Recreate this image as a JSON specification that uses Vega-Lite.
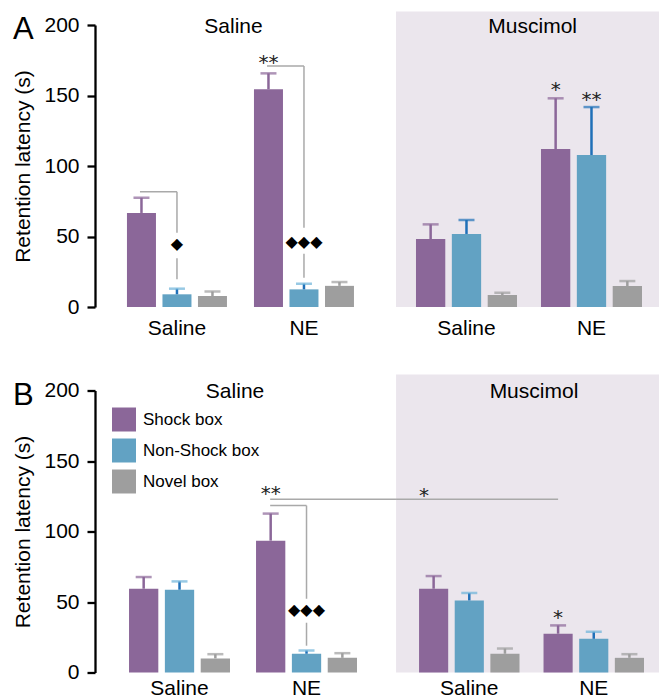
{
  "$schema": "https://vega.github.io/schema/vega-lite/v6.json",
  "padding": {"left": 12, "top": 11, "right": 0, "bottom": 0},
  "background": "white",
  "config": {
    "view": {"stroke": null},
    "font": "Liberation Sans",
    "text": {"font": "Liberation Sans"},
    "axis": {"labelFont": "Liberation Sans", "titleFont": "Liberation Sans", "labelColor": "black", "titleColor": "black"},
    "title": {"font": "Liberation Sans"}
  },
  "datasets": {
    "bars": [
      {"panel": "A", "cond": "Saline", "drug": "Saline", "box": "Shock box", "mean": 66.7, "upper": 77.5},
      {"panel": "A", "cond": "Saline", "drug": "Saline", "box": "Non-Shock box", "mean": 9, "upper": 13},
      {"panel": "A", "cond": "Saline", "drug": "Saline", "box": "Novel box", "mean": 7.8, "upper": 11},
      {"panel": "A", "cond": "Saline", "drug": "NE", "box": "Shock box", "mean": 154.4, "upper": 165.7},
      {"panel": "A", "cond": "Saline", "drug": "NE", "box": "Non-Shock box", "mean": 12.5, "upper": 16.5},
      {"panel": "A", "cond": "Saline", "drug": "NE", "box": "Novel box", "mean": 15, "upper": 17.7},
      {"panel": "A", "cond": "Muscimol", "drug": "Saline", "box": "Shock box", "mean": 48.2, "upper": 58.6},
      {"panel": "A", "cond": "Muscimol", "drug": "Saline", "box": "Non-Shock box", "mean": 51.8, "upper": 61.7},
      {"panel": "A", "cond": "Muscimol", "drug": "Saline", "box": "Novel box", "mean": 8.5, "upper": 10.1},
      {"panel": "A", "cond": "Muscimol", "drug": "NE", "box": "Shock box", "mean": 112, "upper": 148},
      {"panel": "A", "cond": "Muscimol", "drug": "NE", "box": "Non-Shock box", "mean": 107.8, "upper": 141.8},
      {"panel": "A", "cond": "Muscimol", "drug": "NE", "box": "Novel box", "mean": 14.9, "upper": 18.4},
      {"panel": "B", "cond": "Saline", "drug": "Saline", "box": "Shock box", "mean": 59.4, "upper": 67.7},
      {"panel": "B", "cond": "Saline", "drug": "Saline", "box": "Non-Shock box", "mean": 58.7, "upper": 64.6},
      {"panel": "B", "cond": "Saline", "drug": "Saline", "box": "Novel box", "mean": 10, "upper": 13},
      {"panel": "B", "cond": "Saline", "drug": "NE", "box": "Shock box", "mean": 93.5, "upper": 112.7},
      {"panel": "B", "cond": "Saline", "drug": "NE", "box": "Non-Shock box", "mean": 13.3, "upper": 15.6},
      {"panel": "B", "cond": "Saline", "drug": "NE", "box": "Novel box", "mean": 10.4, "upper": 13.7},
      {"panel": "B", "cond": "Muscimol", "drug": "Saline", "box": "Shock box", "mean": 59.4, "upper": 68.4},
      {"panel": "B", "cond": "Muscimol", "drug": "Saline", "box": "Non-Shock box", "mean": 51.1, "upper": 56.4},
      {"panel": "B", "cond": "Muscimol", "drug": "Saline", "box": "Novel box", "mean": 13.3, "upper": 17},
      {"panel": "B", "cond": "Muscimol", "drug": "NE", "box": "Shock box", "mean": 27.5, "upper": 33.4},
      {"panel": "B", "cond": "Muscimol", "drug": "NE", "box": "Non-Shock box", "mean": 23.9, "upper": 28.9},
      {"panel": "B", "cond": "Muscimol", "drug": "NE", "box": "Novel box", "mean": 10.4, "upper": 13}
    ],
    "marks": [
      {"panel": "A", "cond": "Saline", "drug": "Saline", "box": "Non-Shock box", "y": 44.5, "label": "◆", "kind": "dia"},
      {"panel": "A", "cond": "Saline", "drug": "NE", "box": "Shock box", "y": 177, "label": "**", "kind": "star"},
      {"panel": "A", "cond": "Saline", "drug": "NE", "box": "Non-Shock box", "y": 46.3, "label": "◆◆◆", "kind": "dia"},
      {"panel": "A", "cond": "Muscimol", "drug": "NE", "box": "Shock box", "y": 158, "label": "*", "kind": "star"},
      {"panel": "A", "cond": "Muscimol", "drug": "NE", "box": "Non-Shock box", "y": 151, "label": "**", "kind": "star"},
      {"panel": "B", "cond": "Saline", "drug": "NE", "box": "Shock box", "y": 130.5, "label": "**", "kind": "star"},
      {"panel": "B", "cond": "Saline", "drug": "NE", "box": "Non-Shock box", "y": 44, "label": "◆◆◆", "kind": "dia"},
      {"panel": "B", "cond": "Muscimol", "drug": "NE", "box": "Shock box", "y": 42.6, "label": "*", "kind": "star"},
      {"panel": "B", "cond": "Muscimol", "drug": "Saline", "box": "Shock box", "y": 129.5, "label": "*", "kind": "starx"}
    ],
    "heads": [
      {"panel": "A", "cond": "Saline", "drug": "Saline", "y": 194, "label": "Saline"},
      {"panel": "A", "cond": "Muscimol", "drug": "Saline", "y": 194, "label": "Muscimol"},
      {"panel": "B", "cond": "Saline", "drug": "Saline", "y": 194.4, "label": "Saline"},
      {"panel": "B", "cond": "Muscimol", "drug": "Saline", "y": 194.4, "label": "Muscimol"}
    ],
    "shade": [
      {"panel": "A", "cond": "Muscimol", "from": "Saline", "to": "NE", "y0": 0, "y1": 209.6},
      {"panel": "B", "cond": "Muscimol", "from": "Saline", "to": "NE", "y0": 0, "y1": 211.4}
    ],
    "hr": [
      {"panel": "A", "cond": "Saline", "drug": "Saline", "y": 81.8},
      {"panel": "A", "cond": "Saline", "drug": "NE", "y": 170.9},
      {"panel": "B", "cond": "Saline", "drug": "NE", "y": 118.4}
    ],
    "vr": [
      {"panel": "A", "cond": "Saline", "drug": "Saline", "y": 81.8, "y2": 52.7},
      {"panel": "A", "cond": "Saline", "drug": "Saline", "y": 34.5, "y2": 19.6},
      {"panel": "A", "cond": "Saline", "drug": "NE", "y": 170.9, "y2": 56.2},
      {"panel": "A", "cond": "Saline", "drug": "NE", "y": 37.8, "y2": 20.8},
      {"panel": "B", "cond": "Saline", "drug": "NE", "y": 118.4, "y2": 52.3},
      {"panel": "B", "cond": "Saline", "drug": "NE", "y": 35.3, "y2": 19}
    ],
    "long": [
      {"panel": "B", "cond": "Saline", "drug": "NE", "y": 122.9},
      {"panel": "B", "cond": "Muscimol", "drug": "NE", "from": "Saline", "y": 122.9}
    ]
  },
  "columns": 2,
  "bounds": "flush",
  "spacing": {"row": 83.5, "column": 0},
  "resolve": {
    "scale": {"color": "independent", "x": "independent", "y": "independent", "xOffset": "independent"},
    "legend": {"color": "independent"}
  },
  "concat": [
    {
      "width": 301, "height": 282,
      "title": {"text": "A", "anchor": "start", "frame": "bounds", "orient": "top", "fontSize": 31, "fontWeight": "normal", "color": "black", "baseline": "alphabetic", "offset": 0, "dy": 56},
      "resolve": {"scale": {"color": "independent"}},
      "encoding": {
        "x": {"field": "drug", "type": "nominal", "sort": ["Saline", "NE"], "scale": {"domain": ["Saline", "NE"], "paddingInner": 0.2126, "paddingOuter": 0.2913, "align": 0.432},
              "axis": {"title": null, "domain": false, "ticks": false, "tickSize": 0, "labelFontSize": 21, "labelPadding": 10, "labelAngle": 0}},
        "y": {"field": "mean", "type": "quantitative", "scale": {"domain": [0, 200], "nice": false},
              "axis": {"title": "Retention latency (s)", "values": [0, 50, 100, 150, 200], "grid": false, "domainColor": "black", "domainWidth": 2.3, "tickColor": "black", "tickWidth": 2.3, "tickSize": 8, "labelFontSize": 21, "labelPadding": 8, "titleFontSize": 21, "titleFontWeight": "normal", "titlePadding": 10}}
      },
      "layer": [
        {
          "data": {"name": "bars"},
          "transform": [{"filter": "datum.panel == 'A' && datum.cond == 'Saline'"}],
          "resolve": {"scale": {"color": "independent"}},
          "layer": [
            {"mark": {"type": "bar"},
             "encoding": {"xOffset": {"field": "box", "type": "nominal", "scale": {"domain": ["Shock box", "Non-Shock box", "Novel box"], "paddingInner": 0.183, "paddingOuter": 0}},
                          "color": {"field": "box", "type": "nominal", "scale": {"domain": ["Shock box", "Non-Shock box", "Novel box"], "range": ["#8b6799", "#62a2c3", "#9e9e9e"]}, "legend": null}}},
            {"mark": {"type": "rule", "strokeWidth": 2.5},
             "encoding": {"xOffset": {"field": "box", "type": "nominal"}, "y2": {"field": "upper"},
                          "color": {"field": "box", "type": "nominal", "scale": {"domain": ["Shock box", "Non-Shock box", "Novel box"], "range": ["#8b6799", "#2070b8", "#9e9e9e"]}, "legend": null}}},
            {"mark": {"type": "tick", "thickness": 2.5, "size": 16},
             "encoding": {"xOffset": {"field": "box", "type": "nominal"}, "y": {"field": "upper", "type": "quantitative"},
                          "color": {"field": "box", "type": "nominal", "scale": {"domain": ["Shock box", "Non-Shock box", "Novel box"], "range": ["#8b6799", "#6cb2d8", "#9e9e9e"]}, "legend": null}}}
          ]
        },
        {
          "data": {"name": "hr"},
          "transform": [{"filter": "datum.panel == 'A' && datum.cond == 'Saline'"}],
          "mark": {"type": "rule", "color": "#a9a9a9", "strokeWidth": 1.5},
          "encoding": {"x": {"field": "drug", "type": "nominal", "bandPosition": 0.13}, "x2": {"field": "drug", "bandPosition": 0.5}, "y": {"field": "y", "type": "quantitative"}}
        },
        {
          "data": {"name": "vr"},
          "transform": [{"filter": "datum.panel == 'A' && datum.cond == 'Saline'"}],
          "mark": {"type": "rule", "color": "#a9a9a9", "strokeWidth": 1.5},
          "encoding": {"x": {"field": "drug", "type": "nominal", "bandPosition": 0.5}, "y": {"field": "y", "type": "quantitative"}, "y2": {"field": "y2"}}
        },
        {
          "data": {"name": "marks"},
          "transform": [{"filter": "datum.panel == 'A' && datum.cond == 'Saline' && datum.kind == 'star'"}],
          "mark": {"type": "text", "font": "DejaVu Sans", "fontSize": 20, "baseline": "alphabetic", "dy": 12, "color": "#222222"},
          "encoding": {"xOffset": {"field": "box", "type": "nominal"}, "y": {"field": "y", "type": "quantitative"}, "text": {"field": "label"}}
        },
        {
          "data": {"name": "marks"},
          "transform": [{"filter": "datum.panel == 'A' && datum.cond == 'Saline' && datum.kind == 'dia'"}],
          "mark": {"type": "text", "font": "DejaVu Sans", "fontSize": 16, "baseline": "middle", "color": "black"},
          "encoding": {"xOffset": {"field": "box", "type": "nominal"}, "y": {"field": "y", "type": "quantitative"}, "text": {"field": "label"}}
        },
        {
          "data": {"name": "heads"},
          "transform": [{"filter": "datum.panel == 'A' && datum.cond == 'Saline'"}],
          "mark": {"type": "text", "fontSize": 21, "baseline": "alphabetic", "align": "center", "color": "black"},
          "encoding": {"x": {"field": "drug", "type": "nominal", "bandPosition": 1.065}, "y": {"field": "y", "type": "quantitative"}, "text": {"field": "label"}}
        }
      ]
    },
    {
      "width": 264, "height": 282,
      "resolve": {"scale": {"color": "independent"}},
      "encoding": {
        "x": {"field": "drug", "type": "nominal", "sort": ["Saline", "NE"], "scale": {"domain": ["Saline", "NE"], "paddingInner": 0.192, "paddingOuter": 0.152, "align": 0.526},
              "axis": {"title": null, "domain": false, "ticks": false, "tickSize": 0, "labelFontSize": 21, "labelPadding": 10, "labelAngle": 0}},
        "y": {"field": "mean", "type": "quantitative", "scale": {"domain": [0, 200], "nice": false}, "axis": null}
      },
      "layer": [
        {
          "data": {"name": "shade"},
          "transform": [{"filter": "datum.panel == 'A'"}],
          "mark": {"type": "rect", "color": "#ebe6ed", "clip": false},
          "encoding": {"x": {"field": "from", "type": "nominal", "bandPosition": -0.198}, "x2": {"field": "to", "bandPosition": 1.178}, "y": {"field": "y0", "type": "quantitative", "axis": null}, "y2": {"field": "y1"}}
        },
        {
          "data": {"name": "bars"},
          "transform": [{"filter": "datum.panel == 'A' && datum.cond == 'Muscimol'"}],
          "resolve": {"scale": {"color": "independent"}},
          "layer": [
            {"mark": {"type": "bar"},
             "encoding": {"xOffset": {"field": "box", "type": "nominal", "scale": {"domain": ["Shock box", "Non-Shock box", "Novel box"], "paddingInner": 0.183, "paddingOuter": 0}},
                          "color": {"field": "box", "type": "nominal", "scale": {"domain": ["Shock box", "Non-Shock box", "Novel box"], "range": ["#8b6799", "#62a2c3", "#9e9e9e"]}, "legend": null}}},
            {"mark": {"type": "rule", "strokeWidth": 2.5},
             "encoding": {"xOffset": {"field": "box", "type": "nominal"}, "y2": {"field": "upper"},
                          "color": {"field": "box", "type": "nominal", "scale": {"domain": ["Shock box", "Non-Shock box", "Novel box"], "range": ["#8b6799", "#2070b8", "#9e9e9e"]}, "legend": null}}},
            {"mark": {"type": "tick", "thickness": 2.5, "size": 16},
             "encoding": {"xOffset": {"field": "box", "type": "nominal"}, "y": {"field": "upper", "type": "quantitative", "axis": null},
                          "color": {"field": "box", "type": "nominal", "scale": {"domain": ["Shock box", "Non-Shock box", "Novel box"], "range": ["#8b6799", "#2070b8", "#9e9e9e"]}, "legend": null}}}
          ]
        },
        {
          "data": {"name": "marks"},
          "transform": [{"filter": "datum.panel == 'A' && datum.cond == 'Muscimol' && datum.kind == 'star'"}],
          "mark": {"type": "text", "font": "DejaVu Sans", "fontSize": 20, "baseline": "alphabetic", "dy": 12, "color": "#222222"},
          "encoding": {"xOffset": {"field": "box", "type": "nominal"}, "y": {"field": "y", "type": "quantitative", "axis": null}, "text": {"field": "label"}}
        },
        {
          "data": {"name": "heads"},
          "transform": [{"filter": "datum.panel == 'A' && datum.cond == 'Muscimol'"}],
          "mark": {"type": "text", "fontSize": 21, "baseline": "alphabetic", "align": "center", "color": "black"},
          "encoding": {"x": {"field": "drug", "type": "nominal", "bandPosition": 1.155}, "y": {"field": "y", "type": "quantitative", "axis": null}, "text": {"field": "label"}}
        }
      ]
    },
    {
      "width": 301, "height": 282,
      "title": {"text": "B", "anchor": "start", "frame": "bounds", "orient": "top", "fontSize": 31, "fontWeight": "normal", "color": "black", "baseline": "alphabetic", "offset": 0, "dy": 56},
      "resolve": {"scale": {"color": "independent"}},
      "encoding": {
        "x": {"field": "drug", "type": "nominal", "sort": ["Saline", "NE"], "scale": {"domain": ["Saline", "NE"], "paddingInner": 0.205, "paddingOuter": 0.2875, "align": 0.466},
              "axis": {"title": null, "domain": false, "ticks": false, "tickSize": 0, "labelFontSize": 21, "labelPadding": 5, "labelAngle": 0}},
        "y": {"field": "mean", "type": "quantitative", "scale": {"domain": [0, 200], "nice": false},
              "axis": {"title": "Retention latency (s)", "values": [0, 50, 100, 150, 200], "grid": false, "domainColor": "black", "domainWidth": 2.3, "tickColor": "black", "tickWidth": 2.3, "tickSize": 8, "labelFontSize": 21, "labelPadding": 8, "titleFontSize": 21, "titleFontWeight": "normal", "titlePadding": 10}}
      },
      "layer": [
        {
          "data": {"name": "bars"},
          "transform": [{"filter": "datum.panel == 'B' && datum.cond == 'Saline'"}],
          "resolve": {"scale": {"color": "independent"}},
          "layer": [
            {"mark": {"type": "bar"},
             "encoding": {"xOffset": {"field": "box", "type": "nominal", "scale": {"domain": ["Shock box", "Non-Shock box", "Novel box"], "paddingInner": 0.183, "paddingOuter": 0}},
                          "color": {"field": "box", "type": "nominal", "scale": {"domain": ["Shock box", "Non-Shock box", "Novel box"], "range": ["#8b6799", "#62a2c3", "#9e9e9e"]},
                                    "legend": {"orient": "top-left", "offset": 17, "title": null, "symbolType": "square", "symbolSize": 576, "symbolStrokeWidth": 0, "labelFontSize": 17, "labelFont": "Liberation Sans", "labelColor": "black", "rowPadding": 7, "labelOffset": 7, "padding": 0}}}},
            {"mark": {"type": "rule", "strokeWidth": 2.5},
             "encoding": {"xOffset": {"field": "box", "type": "nominal"}, "y2": {"field": "upper"},
                          "color": {"field": "box", "type": "nominal", "scale": {"domain": ["Shock box", "Non-Shock box", "Novel box"], "range": ["#8b6799", "#2070b8", "#9e9e9e"]}, "legend": null}}},
            {"mark": {"type": "tick", "thickness": 2.5, "size": 16},
             "encoding": {"xOffset": {"field": "box", "type": "nominal"}, "y": {"field": "upper", "type": "quantitative"},
                          "color": {"field": "box", "type": "nominal", "scale": {"domain": ["Shock box", "Non-Shock box", "Novel box"], "range": ["#8b6799", "#6cb2d8", "#9e9e9e"]}, "legend": null}}}
          ]
        },
        {
          "data": {"name": "hr"},
          "transform": [{"filter": "datum.panel == 'B' && datum.cond == 'Saline'"}],
          "mark": {"type": "rule", "color": "#a9a9a9", "strokeWidth": 1.5},
          "encoding": {"x": {"field": "drug", "type": "nominal", "bandPosition": 0.14}, "x2": {"field": "drug", "bandPosition": 0.5}, "y": {"field": "y", "type": "quantitative"}}
        },
        {
          "data": {"name": "long"},
          "transform": [{"filter": "datum.panel == 'B' && datum.cond == 'Saline'"}],
          "mark": {"type": "rule", "color": "#a9a9a9", "strokeWidth": 1.5},
          "encoding": {"x": {"field": "drug", "type": "nominal", "bandPosition": 0.14}, "x2": {"field": "drug", "bandPosition": 1.386}, "y": {"field": "y", "type": "quantitative"}}
        },
        {
          "data": {"name": "vr"},
          "transform": [{"filter": "datum.panel == 'B' && datum.cond == 'Saline'"}],
          "mark": {"type": "rule", "color": "#a9a9a9", "strokeWidth": 1.5},
          "encoding": {"x": {"field": "drug", "type": "nominal", "bandPosition": 0.5}, "y": {"field": "y", "type": "quantitative"}, "y2": {"field": "y2"}}
        },
        {
          "data": {"name": "marks"},
          "transform": [{"filter": "datum.panel == 'B' && datum.cond == 'Saline' && datum.kind == 'star'"}],
          "mark": {"type": "text", "font": "DejaVu Sans", "fontSize": 20, "baseline": "alphabetic", "dy": 12, "color": "#222222"},
          "encoding": {"xOffset": {"field": "box", "type": "nominal"}, "y": {"field": "y", "type": "quantitative"}, "text": {"field": "label"}}
        },
        {
          "data": {"name": "marks"},
          "transform": [{"filter": "datum.panel == 'B' && datum.cond == 'Saline' && datum.kind == 'dia'"}],
          "mark": {"type": "text", "font": "DejaVu Sans", "fontSize": 16, "baseline": "middle", "color": "black"},
          "encoding": {"xOffset": {"field": "box", "type": "nominal"}, "y": {"field": "y", "type": "quantitative"}, "text": {"field": "label"}}
        },
        {
          "data": {"name": "heads"},
          "transform": [{"filter": "datum.panel == 'B' && datum.cond == 'Saline'"}],
          "mark": {"type": "text", "fontSize": 21, "baseline": "alphabetic", "align": "center", "color": "black"},
          "encoding": {"x": {"field": "drug", "type": "nominal", "bandPosition": 1.05}, "y": {"field": "y", "type": "quantitative"}, "text": {"field": "label"}}
        }
      ]
    },
    {
      "width": 264, "height": 282,
      "resolve": {"scale": {"color": "independent"}},
      "encoding": {
        "x": {"field": "drug", "type": "nominal", "sort": ["Saline", "NE"], "scale": {"domain": ["Saline", "NE"], "paddingInner": 0.193, "paddingOuter": 0.157, "align": 0.59},
              "axis": {"title": null, "domain": false, "ticks": false, "tickSize": 0, "labelFontSize": 21, "labelPadding": 5, "labelAngle": 0}},
        "y": {"field": "mean", "type": "quantitative", "scale": {"domain": [0, 200], "nice": false}, "axis": null}
      },
      "layer": [
        {
          "data": {"name": "shade"},
          "transform": [{"filter": "datum.panel == 'B'"}],
          "mark": {"type": "rect", "color": "#ebe6ed", "clip": false},
          "encoding": {"x": {"field": "from", "type": "nominal", "bandPosition": -0.229}, "x2": {"field": "to", "bandPosition": 1.159}, "y": {"field": "y0", "type": "quantitative", "axis": null}, "y2": {"field": "y1"}}
        },
        {
          "data": {"name": "bars"},
          "transform": [{"filter": "datum.panel == 'B' && datum.cond == 'Muscimol'"}],
          "resolve": {"scale": {"color": "independent"}},
          "layer": [
            {"mark": {"type": "bar"},
             "encoding": {"xOffset": {"field": "box", "type": "nominal", "scale": {"domain": ["Shock box", "Non-Shock box", "Novel box"], "paddingInner": 0.183, "paddingOuter": 0}},
                          "color": {"field": "box", "type": "nominal", "scale": {"domain": ["Shock box", "Non-Shock box", "Novel box"], "range": ["#8b6799", "#62a2c3", "#9e9e9e"]}, "legend": null}}},
            {"mark": {"type": "rule", "strokeWidth": 2.5},
             "encoding": {"xOffset": {"field": "box", "type": "nominal"}, "y2": {"field": "upper"},
                          "color": {"field": "box", "type": "nominal", "scale": {"domain": ["Shock box", "Non-Shock box", "Novel box"], "range": ["#8b6799", "#2070b8", "#9e9e9e"]}, "legend": null}}},
            {"mark": {"type": "tick", "thickness": 2.5, "size": 16},
             "encoding": {"xOffset": {"field": "box", "type": "nominal"}, "y": {"field": "upper", "type": "quantitative", "axis": null},
                          "color": {"field": "box", "type": "nominal", "scale": {"domain": ["Shock box", "Non-Shock box", "Novel box"], "range": ["#8b6799", "#6cb2d8", "#9e9e9e"]}, "legend": null}}}
          ]
        },
        {
          "data": {"name": "long"},
          "transform": [{"filter": "datum.panel == 'B' && datum.cond == 'Muscimol'"}],
          "mark": {"type": "rule", "color": "#a9a9a9", "strokeWidth": 1.5},
          "encoding": {"x": {"field": "drug", "type": "nominal", "bandPosition": 0.145}, "x2": {"field": "from", "bandPosition": -0.229}, "y": {"field": "y", "type": "quantitative", "axis": null}}
        },
        {
          "data": {"name": "marks"},
          "transform": [{"filter": "datum.panel == 'B' && datum.cond == 'Muscimol' && datum.kind == 'star'"}],
          "mark": {"type": "text", "font": "DejaVu Sans", "fontSize": 20, "baseline": "alphabetic", "dy": 12, "color": "#222222"},
          "encoding": {"xOffset": {"field": "box", "type": "nominal"}, "y": {"field": "y", "type": "quantitative", "axis": null}, "text": {"field": "label"}}
        },
        {
          "data": {"name": "marks"},
          "transform": [{"filter": "datum.panel == 'B' && datum.cond == 'Muscimol' && datum.kind == 'starx'"}],
          "mark": {"type": "text", "font": "DejaVu Sans", "fontSize": 20, "baseline": "alphabetic", "dy": 12, "color": "#222222"},
          "encoding": {"x": {"field": "drug", "type": "nominal", "bandPosition": 0.05}, "y": {"field": "y", "type": "quantitative", "axis": null}, "text": {"field": "label"}}
        },
        {
          "data": {"name": "heads"},
          "transform": [{"filter": "datum.panel == 'B' && datum.cond == 'Muscimol'"}],
          "mark": {"type": "text", "fontSize": 21, "baseline": "alphabetic", "align": "center", "color": "black"},
          "encoding": {"x": {"field": "drug", "type": "nominal", "bandPosition": 1.144}, "y": {"field": "y", "type": "quantitative", "axis": null}, "text": {"field": "label"}}
        }
      ]
    }
  ]
}
